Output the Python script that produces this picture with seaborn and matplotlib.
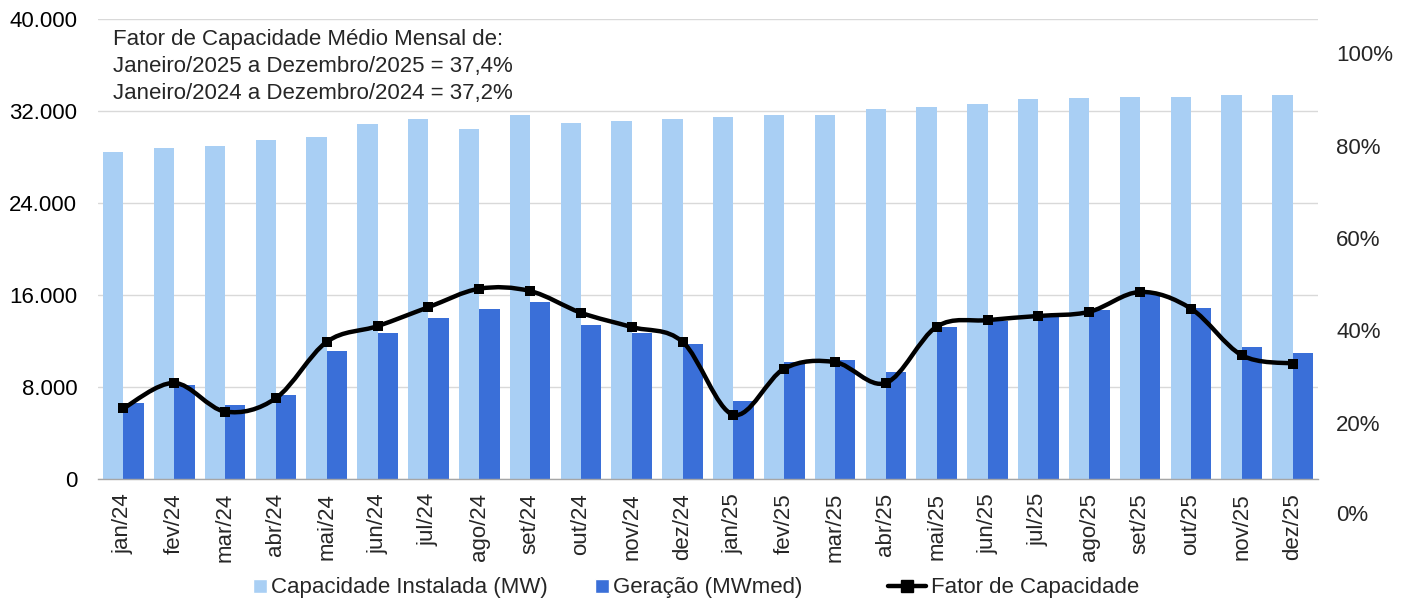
import numpy as np
import pandas as pd
import matplotlib
matplotlib.use("Agg")
import matplotlib.pyplot as plt
import matplotlib.transforms as mtransforms
from matplotlib.path import Path
from matplotlib.patches import PathPatch, Patch, Rectangle
from matplotlib.lines import Line2D
from matplotlib.legend_handler import HandlerPatch
import seaborn as sns

# ---------------- data ----------------
meses = ["jan/24", "fev/24", "mar/24", "abr/24", "mai/24", "jun/24", "jul/24", "ago/24",
         "set/24", "out/24", "nov/24", "dez/24", "jan/25", "fev/25", "mar/25", "abr/25",
         "mai/25", "jun/25", "jul/25", "ago/25", "set/25", "out/25", "nov/25", "dez/25"]
capacidade = [28430, 28780, 28960, 29480, 29740, 30870, 31300, 30430, 31650, 30960, 31130, 31300,
              31480, 31650, 31650, 32170, 32350, 32610, 33040, 33130, 33220, 33220, 33390, 33390]
geracao = [6610, 8170, 6460, 7300, 11130, 12700, 14030, 14780, 15390, 13390, 12670, 11740,
           6750, 10140, 10380, 9280, 13190, 13770, 14200, 14700, 16050, 14900, 11480, 10990]
fator = [23.1, 28.6, 22.4, 25.3, 37.5, 40.9, 45.0, 49.0, 48.5, 43.8, 40.7, 37.5,
         21.7, 31.7, 33.1, 28.6, 40.8, 42.2, 43.1, 44.0, 48.3, 44.7, 34.6, 32.8]
serie_cap = "Capacidade Instalada (MW)"
serie_ger = "Geração (MWmed)"
serie_fc = "Fator de Capacidade"
y_ticks = [0, 8000, 16000, 24000, 32000, 40000]
y_tick_labels = ["0", "8.000", "16.000", "24.000", "32.000", "40.000"]
pct_ticks = [20, 40, 60, 80, 100]
pct_tick_labels = ["20%", "40%", "60%", "80%", "100%"]
pct_zero_label = "0%"
nota = ("Fator de Capacidade Médio Mensal de:\n"
        "Janeiro/2025 a Dezembro/2025 = 37,4%\n"
        "Janeiro/2024 a Dezembro/2024 = 37,2%")

# ---------------- style ----------------
sns.set_style("white")
plt.rcParams["font.family"] = ["Liberation Sans", "DejaVu Sans"]
COR_CAP = "#A9CFF4"
COR_GER = "#3A6FD8"
COR_GRID = "#D9D9D9"
COR_EIXO = "#A6A6A6"
FS = 16

W, H = 1407, 600
fig = plt.figure(figsize=(W / 100, H / 100), dpi=100)
ax_l, ax_r, ax_t, ax_b = 98, 1318, 19, 479
ax = fig.add_axes([ax_l / W, (H - ax_b) / H, (ax_r - ax_l) / W, (ax_b - ax_t) / H])

df = pd.DataFrame({
    "mes": meses * 2,
    "serie": [serie_cap] * len(meses) + [serie_ger] * len(meses),
    "valor": capacidade + geracao,
})
sns.barplot(data=df, x="mes", y="valor", hue="serie", hue_order=[serie_cap, serie_ger],
            palette=[COR_CAP, COR_GER], saturation=1, width=0.8, linewidth=0,
            legend=False, ax=ax, zorder=2)

ax.set_xlim(-0.5, len(meses) - 0.5)
ax.set_ylim(0, 40000)
ax.set_yticks(y_ticks)
ax.set_yticklabels(y_tick_labels)
ax.set_xlabel("")
ax.set_ylabel("")
ax.set_axisbelow(True)
ax.yaxis.grid(True, color=COR_GRID, linewidth=1)
ax.xaxis.grid(False)
for s in ["top", "right", "left"]:
    ax.spines[s].set_visible(False)
ax.spines["bottom"].set_color(COR_EIXO)
ax.spines["bottom"].set_linewidth(1)
ax.tick_params(axis="y", length=0, pad=15, labelsize=FS, labelcolor="black")
ax.set_xticks(range(len(meses)))
ax.set_xticklabels(meses, rotation=90, fontsize=FS)
ax.tick_params(axis="x", which="major", length=0, pad=10)
ax.set_xticks(np.arange(-0.5, len(meses), 1), minor=True)
ax.tick_params(axis="x", which="minor", length=6, width=1, color=COR_EIXO)

# ---------------- right axis ----------------
ax2 = ax.twinx()
ax2.set_ylim(7.8, 107.4)
ax2.set_yticks(pct_ticks)
ax2.set_yticklabels(pct_tick_labels)
ax2.tick_params(axis="y", length=0, pad=13, labelsize=FS)
for s in ["top", "right", "left", "bottom"]:
    ax2.spines[s].set_visible(False)
ax2.grid(False)
trans = mtransforms.blended_transform_factory(ax2.transAxes, ax2.transData)
ax2.text(1.0, 0, pct_zero_label,
         transform=trans + mtransforms.ScaledTranslation(18 / 100, 0, fig.dpi_scale_trans),
         ha="left", va="center", fontsize=FS, clip_on=False)

# smoothed line (Catmull-Rom style bezier through the data points)
xs = np.arange(len(fator), dtype=float)
ys = np.array(fator, dtype=float)
pts = np.column_stack([xs, ys])
verts = [tuple(pts[0])]
codes = [Path.MOVETO]
n = len(pts)
for i in range(n - 1):
    p0 = pts[i - 1] if i > 0 else pts[i]
    p1 = pts[i]
    p2 = pts[i + 1]
    p3 = pts[i + 2] if i + 2 < n else pts[i + 1]
    c1 = p1 + (p2 - p0) / 6.0
    c2 = p2 - (p3 - p1) / 6.0
    verts += [tuple(c1), tuple(c2), tuple(p2)]
    codes += [Path.CURVE4] * 3
ax2.add_patch(PathPatch(Path(verts, codes), facecolor="none", edgecolor="black",
                        linewidth=3.2, capstyle="round", joinstyle="round", zorder=3))
sns.scatterplot(x=xs, y=ys, marker="s", color="black", s=62, linewidth=0, ax=ax2, zorder=4)
ax2.set_xlim(-0.5, len(meses) - 0.5)

# annotation
ax.text((113 - ax_l) / (ax_r - ax_l), (ax_b - 29) / (ax_b - ax_t), nota, transform=ax.transAxes,
        ha="left", va="top", fontsize=FS, linespacing=1.37, zorder=5)

# ---------------- legend ----------------
def square(legend, orig_handle, xdescent, ydescent, width, height, fontsize):
    s = 14 * 72 / 100
    return Rectangle((-xdescent + width - s, -ydescent + (height - s) / 2), s, s,
                     facecolor=orig_handle.get_facecolor(), edgecolor="none")

leg_y = (H - 588) / H
items = [
    (Patch(facecolor=COR_CAP), serie_cap, 253),
    (Patch(facecolor=COR_GER), serie_ger, 595),
]
for handle, label, xpx in items:
    fig.legend([handle], [label], loc="center left", bbox_to_anchor=(xpx / W, leg_y),
               frameon=False, fontsize=FS, handlelength=0.63, handletextpad=0.17,
               borderaxespad=0, borderpad=0,
               handler_map={Patch: HandlerPatch(patch_func=square)})
line_handle = Line2D([], [], color="black", linewidth=3.2, marker="s", markersize=8)
fig.legend([line_handle], [serie_fc], loc="center left", bbox_to_anchor=(888 / W, leg_y),
           frameon=False, fontsize=FS, handlelength=1.71, handletextpad=0.22,
           borderaxespad=0, borderpad=0)

fig.savefig("out.png", dpi=100)
